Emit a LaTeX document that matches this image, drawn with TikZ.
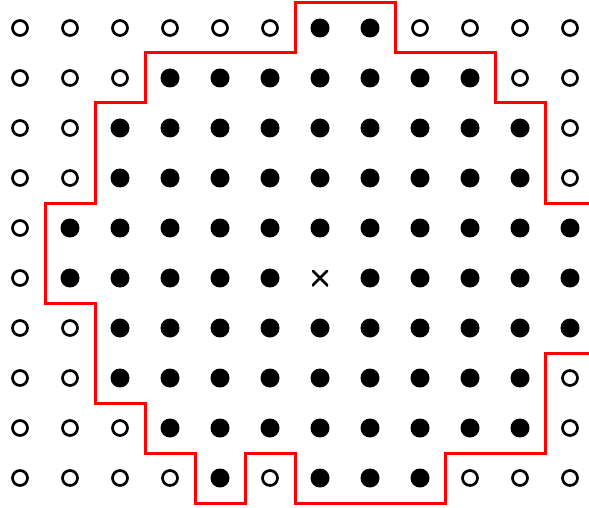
\documentclass[tikz,border=0pt]{standalone}
\begin{document}
\begin{tikzpicture}[x=1pt,y=-1pt,
  hollowdot/.style={circle,draw=black,line width=2.7pt,fill=white,minimum size=15pt,inner sep=0pt},
  fulldot/.style={circle,fill=black,minimum size=19pt,inner sep=0pt},
  crossmark/.style={inner sep=0pt,minimum size=16pt,path picture={\draw[line width=2.6pt] (path picture bounding box.north west)--(path picture bounding box.south east) (path picture bounding box.north east)--(path picture bounding box.south west);}},
  region/.style={draw=red,line width=3pt,line join=miter}]
\useasboundingbox (0,0) rectangle (589,508);
% filled columns per row
\def\filled{%
 0/{6,7},%
 1/{3,4,5,6,7,8,9},%
 2/{2,3,4,5,6,7,8,9,10},%
 3/{2,3,4,5,6,7,8,9,10},%
 4/{1,2,3,4,5,6,7,8,9,10,11},%
 5/{1,2,3,4,5,7,8,9,10,11},%
 6/{2,3,4,5,6,7,8,9,10,11},%
 7/{2,3,4,5,6,7,8,9,10},%
 8/{3,4,5,6,7,8,9,10},%
 9/{4,6,7,8}}
\foreach \r in {0,...,9}{
  \foreach \c in {0,...,11}{
    \node[hollowdot] (h-\r-\c) at (20+50*\c,28+50*\r) {};
  }
}
\foreach \r/\cols in \filled{
  \foreach \c in \cols{
    \node[circle,fill=white,minimum size=22pt,inner sep=0pt] (w-\r-\c) at (20+50*\c,28+50*\r) {};
    \node[fulldot] (f-\r-\c) at (20+50*\c,28+50*\r) {};
  }
}
\node[circle,fill=white,minimum size=22pt,inner sep=0pt] (wx) at (320,278) {};
\node[crossmark] (x) at (320,278) {};
\draw[region] (590,203) -- (545,203) -- (545,103) -- (495,103) -- (495,53) -- (395,53) -- (395,3) -- (295,3) -- (295,53) -- (145,53) -- (145,103) -- (95,103) -- (95,203) -- (45,203) -- (45,303) -- (95,303) -- (95,403) -- (145,403) -- (145,453) -- (195,453) -- (195,503) -- (245,503) -- (245,453) -- (295,453) -- (295,503) -- (445,503) -- (445,453) -- (545,453) -- (545,353) -- (590,353);
\end{tikzpicture}
\end{document}
